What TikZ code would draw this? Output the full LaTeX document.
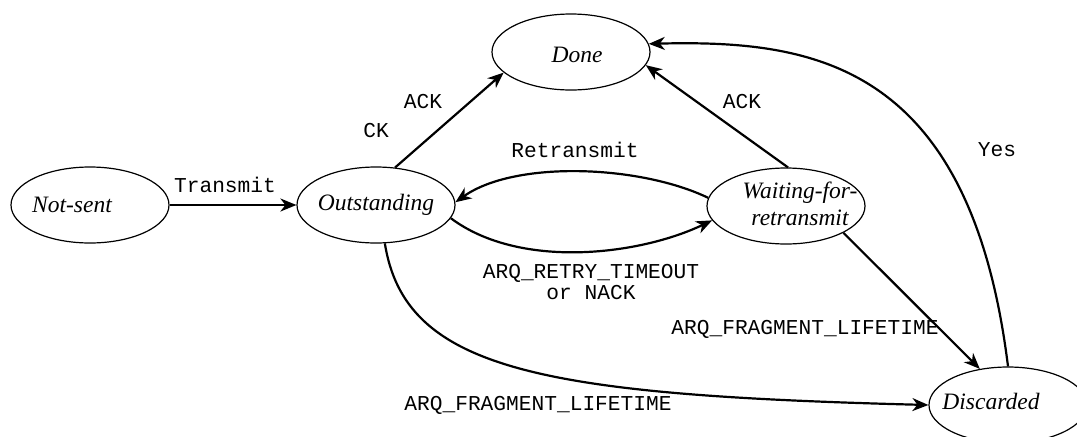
\documentclass[tikz,border=0pt]{standalone}
\usepackage{fontspec}
\setmainfont{Liberation Serif}
\setmonofont{Liberation Mono}
\usetikzlibrary{shapes.geometric,arrows.meta}

\begin{document}
\begin{tikzpicture}[x=0.5pt,y=0.5pt,
	state/.style={draw,ellipse,line width=0.6pt,minimum width=79pt,minimum height=38pt,inner sep=0pt},
	statetext/.style={font=\fontsize{11.75}{13.5}\selectfont\itshape,align=center,inner sep=0pt},
	event/.style={font=\fontsize{10.6}{10.6}\selectfont\ttfamily,align=center,inner sep=0pt},
	trans/.style={line width=1.1pt,-{Stealth[length=8pt,width=6.5pt,inset=2.5pt]}}]
	\useasboundingbox (0,0) rectangle (1077,436);
	\node[state,label={[statetext,xshift=-9pt]center:Not-sent}] (notsent) at (90,231) {};
	\node[state,label={[statetext]center:Outstanding}] (outstanding) at (376,231) {};
	\node[state,label={[statetext,xshift=3pt,yshift=-1.5pt]center:Done}] (done) at (571,384) {};
	\node[state,label={[statetext,xshift=7pt,yshift=1pt]center:Waiting-for-\\retransmit}] (waiting) at (786,230) {};
	\node[state,label={[statetext,xshift=-8.5pt,yshift=2pt]center:Discarded}] (discarded) at (1008,31) {};

	\node[event] (transmit) at (225,251) {Transmit};
	\node[event] (ackleft) at (423,334) {ACK};
	\node[event] (ck) at (376,305) {CK};
	\node[event] (ackright) at (742,334) {ACK};
	\node[event] (retransmit) at (575,286) {Retransmit};
	\node[event] (retry) at (591,154) {ARQ\_RETRY\_TIMEOUT\\or NACK};
	\node[event] (lifetimeup) at (805,107) {ARQ\_FRAGMENT\_LIFETIME};
	\node[event] (lifetimelow) at (538,31) {ARQ\_FRAGMENT\_LIFETIME};
	\node[event] (yes) at (997,286) {Yes};

	\draw[trans] (notsent) -- (outstanding);
	\draw[trans] (outstanding.63) -- (done.197);
	\draw[trans] (waiting.87) -- (done.-10);
	\draw[trans] (waiting.174) .. controls (640,271) and (515,276) .. (outstanding.2);
	\draw[trans] (outstanding.350) .. controls (520,166) and (640,181) .. (waiting.191);
	\draw[trans] (waiting.335) -- (discarded.128);
	\draw[trans] (outstanding.283) .. controls (405,66) and (540,41) .. (discarded.180);
	\draw[trans] (discarded.90) .. controls (970,376) and (810,396) .. (done.6);
\end{tikzpicture}
\end{document}
